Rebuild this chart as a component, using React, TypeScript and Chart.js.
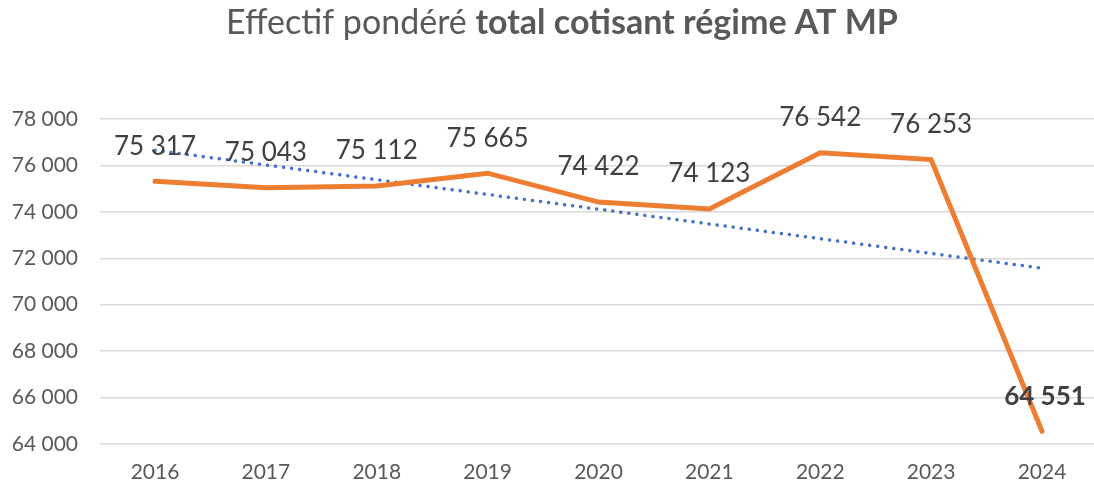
import React, { useEffect, useRef } from "react";
import { Chart, registerables } from "chart.js";

Chart.register(...registerables);

const years: string[] = ["2016", "2017", "2018", "2019", "2020", "2021", "2022", "2023", "2024"];
const effectif: number[] = [75317, 75043, 75112, 75665, 74422, 74123, 76542, 76253, 64551];
// linear trendline at its two ends
const trendStart = 76655;
const trendEnd = 71573;
const yTicks: number[] = [64000, 66000, 68000, 70000, 72000, 74000, 76000, 78000];
const titleRegular = "Effectif pondéré ";
const titleBold = "total cotisant régime AT MP";

const FONT = "Lato, 'Open Sans', sans-serif";

function fmt(v: number): string {
  return Math.round(v).toString().replace(/\B(?=(\d{3})+(?!\d))/g, " ");
}

export default function App() {
  const ref = useRef<HTMLCanvasElement | null>(null);

  useEffect(() => {
    document.body.style.margin = "0";
    const canvas = ref.current;
    if (!canvas) return;

    const lineData = effectif.map((v, i) => ({ x: i, y: v }));
    const trendData = [
      { x: 0, y: trendStart },
      { x: years.length - 1, y: trendEnd },
    ];

    const titlePlugin = {
      id: "mixedTitle",
      afterDraw(chart: any) {
        const ctx = chart.ctx;
        ctx.save();
        const size = 34;
        ctx.textBaseline = "middle";
        ctx.fillStyle = "#595959";
        ctx.font = `400 ${size}px ${FONT}`;
        const w1 = ctx.measureText(titleRegular).width;
        ctx.font = `700 ${size}px ${FONT}`;
        const w2 = ctx.measureText(titleBold).width;
        const cx = 562;
        const x0 = cx - (w1 + w2) / 2;
        const y = 23;
        ctx.textAlign = "left";
        ctx.font = `400 ${size}px ${FONT}`;
        ctx.fillText(titleRegular, x0, y);
        ctx.font = `700 ${size}px ${FONT}`;
        ctx.fillText(titleBold, x0 + w1, y);
        ctx.restore();
      },
    };

    const labelPlugin = {
      id: "pointLabels",
      afterDatasetsDraw(chart: any) {
        const ctx = chart.ctx;
        const meta = chart.getDatasetMeta(0);
        ctx.save();
        ctx.textAlign = "center";
        ctx.textBaseline = "middle";
        meta.data.forEach((el: any, i: number) => {
          const last = i === effectif.length - 1;
          ctx.font = `${last ? 700 : 400} 26px ${FONT}`;
          ctx.fillStyle = "#404040";
          ctx.fillText(fmt(effectif[i]), el.x + (last ? 3 : 0), el.y - 35);
        });
        ctx.restore();
      },
    };

    const chart = new Chart(canvas, {
      type: "line",
      data: {
        datasets: [
          {
            label: "Effectif",
            data: lineData,
            borderColor: "#ED7D31",
            backgroundColor: "#ED7D31",
            borderWidth: 5,
            pointRadius: 0,
            borderCapStyle: "round",
            borderJoinStyle: "miter",
            tension: 0,
            order: 1,
          },
          {
            label: "Tendance",
            data: trendData,
            borderColor: "#4472C4",
            backgroundColor: "#4472C4",
            borderWidth: 3.5,
            borderDash: [0.1, 8],
            borderCapStyle: "round",
            pointRadius: 0,
            tension: 0,
            order: 2,
          },
        ],
      },
      options: {
        animation: false,
        responsive: false,
        devicePixelRatio: 1,
        layout: { padding: { top: 119, right: 0, left: 0, bottom: 0 } },
        plugins: {
          legend: { display: false },
          title: { display: false },
          tooltip: { enabled: false },
        },
        scales: {
          x: {
            type: "linear",
            min: -0.496,
            max: 8.469,
            afterBuildTicks(scale: any) {
              scale.ticks = years.map((_, i) => ({ value: i }));
            },
            afterFit(scale: any) {
              scale.height = 42;
              scale.paddingLeft = 0;
              scale.paddingRight = 0;
            },
            ticks: {
              autoSkip: false,
              maxRotation: 0,
              padding: 16,
              color: "#595959",
              font: { family: FONT, size: 21 },
              callback: (v: any) => years[Number(v)] ?? "",
            },
            grid: { display: false, drawTicks: false },
            border: { display: false },
          },
          y: {
            min: 64000,
            max: 78000,
            afterBuildTicks(scale: any) {
              scale.ticks = yTicks.map((v) => ({ value: v }));
            },
            afterFit(scale: any) {
              scale.width = 100;
            },
            ticks: {
              padding: 22,
              color: "#595959",
              font: { family: FONT, size: 21 },
              callback: (v: any) => fmt(Number(v)),
            },
            grid: { color: "#D9D9D9", lineWidth: 1.5, drawTicks: false },
            border: { display: false },
          },
        },
      },
      plugins: [titlePlugin, labelPlugin],
    } as any);

    return () => chart.destroy();
  }, []);

  return (
    <div style={{ position: "absolute", left: 0, top: 0, width: 1094, height: 486, background: "#fff" }}>
      <canvas ref={ref} width={1094} height={486} />
    </div>
  );
}
